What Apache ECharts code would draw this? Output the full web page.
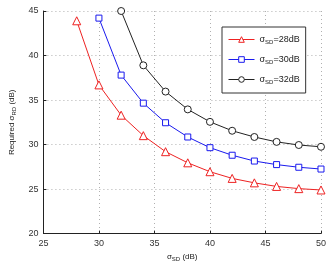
<!DOCTYPE html>
<html>
<head>
<meta charset="utf-8">
<script src="https://cdn.jsdelivr.net/npm/echarts@6/dist/echarts.min.js"></script>
<style>
  html, body { margin: 0; padding: 0; background: #fff; }
  #chart { width: 329px; height: 267px; }
</style>
</head>
<body>
<div id="chart"></div>
<script>
const sd28X = [28, 30, 32, 34, 36, 38, 40, 42, 44, 46, 48, 50]
const sd28Y = [43.9, 36.7, 33.3, 31.0, 29.2, 27.95, 26.95, 26.2, 25.7, 25.3, 25.05, 24.9]
const sd30X = [30, 32, 34, 36, 38, 40, 42, 44, 46, 48, 50]
const sd30Y = [44.2, 37.8, 34.65, 32.45, 30.85, 29.65, 28.8, 28.15, 27.75, 27.45, 27.25]
const sd32X = [32, 34, 36, 38, 40, 42, 44, 46, 48, 50]
const sd32Y = [45.0, 38.9, 35.95, 33.95, 32.55, 31.55, 30.85, 30.3, 29.95, 29.75]
const seriesNames = ['28', '30', '32']

const font = 'Liberation Sans, Arial, sans-serif'
const chart = echarts.init(document.getElementById('chart'))

function pairs(xs, ys) {
  return xs.map((x, i) => [x, ys[i]])
}

function makeSeries(name, xs, ys, color, symbol, size) {
  return {
    name: name,
    type: 'line',
    data: pairs(xs, ys),
    symbol: symbol,
    symbolSize: size,
    showAllSymbol: true,
    color: color,
    lineStyle: { color: color, width: 1 },
    itemStyle: { color: '#fff', borderColor: color, borderWidth: 1 },
    emphasis: { disabled: true },
    animation: false
  }
}

const grid = { left: 30, right: 7, top: 11, bottom: 25 }
const dotted = { show: true, lineStyle: { color: '#b0b0b0', type: [1, 3], width: 1 } }
const richSub = {
  a: { fontSize: 8, color: '#222', fontFamily: font },
  b: { fontSize: 6, color: '#222', fontFamily: font, padding: [5, 0, 0, 0] }
}

chart.setOption({
  backgroundColor: '#fff',
  textStyle: { fontFamily: font },
  grid: grid,
  legend: {
    orient: 'vertical',
    left: 222,
    top: 27,
    width: 85,
    padding: [8, 6, 8, 6],
    itemGap: 10,
    itemWidth: 26,
    itemHeight: 7,
    backgroundColor: '#fff',
    borderColor: '#333',
    borderWidth: 1,
    borderRadius: 0,
    itemStyle: { borderWidth: 1, color: '#fff' },
    lineStyle: { width: 1 },
    data: seriesNames,
    formatter: function (name) {
      return '{a|σ}{b|SD}{a|=' + name + 'dB}'
    },
    textStyle: {
      fontFamily: font,
      rich: {
        a: { fontSize: 9, color: '#222', fontFamily: font },
        b: { fontSize: 6, color: '#222', fontFamily: font, padding: [5, 0, 0, 0] }
      }
    }
  },
  xAxis: {
    type: 'value',
    min: 25,
    max: 50,
    interval: 5,
    name: '{a|σ}{b|SD}{a| (dB)}',
    nameLocation: 'middle',
    nameGap: 14,
    nameTextStyle: { rich: richSub },
    axisLine: { lineStyle: { color: '#222', width: 1 } },
    axisTick: { inside: true, length: 3, lineStyle: { color: '#222' } },
    axisLabel: { fontSize: 9, color: '#333', margin: 5, fontFamily: font },
    splitLine: dotted
  },
  yAxis: {
    type: 'value',
    min: 20,
    max: 45,
    interval: 5,
    name: '{a|Required σ}{b|RD}{a| (dB)}',
    nameLocation: 'middle',
    nameGap: 22,
    nameRotate: 90,
    nameTextStyle: { rich: richSub },
    axisLine: { show: true, lineStyle: { color: '#222', width: 1 } },
    axisTick: { show: true, inside: true, length: 3, lineStyle: { color: '#222' } },
    axisLabel: { fontSize: 9, color: '#333', margin: 5, fontFamily: font },
    splitLine: dotted
  },
  series: [
    makeSeries('28', sd28X, sd28Y, '#ee2222', 'triangle', 8),
    makeSeries('30', sd30X, sd30Y, '#1a1aee', 'rect', 6),
    makeSeries('32', sd32X, sd32Y, '#222222', 'circle', 7)
  ]
})
</script>
</body>
</html>
